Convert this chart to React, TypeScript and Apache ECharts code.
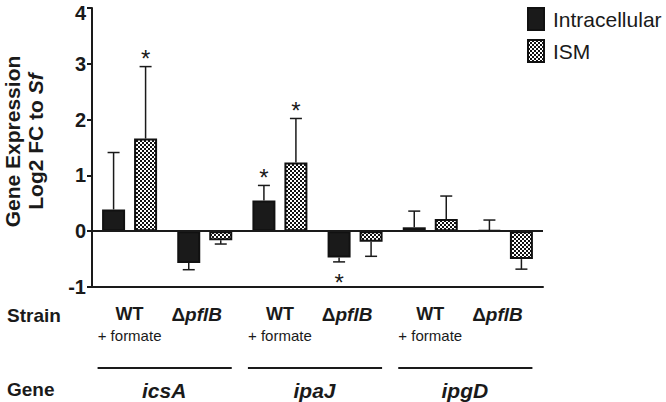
import React, { useEffect, useRef } from "react";
import * as echarts from "echarts";

// ---- data ----
const strains = ["WT + formate", "ΔpflB", "WT + formate", "ΔpflB", "WT + formate", "ΔpflB"];
const genes = ["icsA", "ipaJ", "ipgD"];
const yTicks = [-1, 0, 1, 2, 3, 4];
const intracellular = [0.39, -0.57, 0.55, -0.47, 0.07, 0.02];
const intracellularSD = [1.02, 0.12, 0.27, 0.08, 0.29, 0.18];
const intracellularSig = [false, false, true, true, false, false];
const ism = [1.66, -0.16, 1.23, -0.19, 0.22, -0.5];
const ismSD = [1.29, 0.07, 0.79, 0.26, 0.41, 0.18];
const ismSig = [true, false, true, false, false, false];

const FONT = "'Liberation Sans', Arial, Helvetica, sans-serif";
const INK = "#1a1a1a";
const BAR_W = 23;
const BAR_GAP = 9;

function makePattern() {
  const c = document.createElement("canvas");
  c.width = 4;
  c.height = 4;
  const ctx = c.getContext("2d")!;
  ctx.fillStyle = "#ffffff";
  ctx.fillRect(0, 0, 4, 4);
  ctx.fillStyle = "#111111";
  ctx.fillRect(0, 0, 2, 2);
  ctx.fillRect(2, 2, 2, 2);
  return { image: c, repeat: "repeat", imageWidth: 4, imageHeight: 4 };
}

function errData(vals: number[], sds: number[], sig: boolean[]) {
  return vals.map((v, i) => [i, v, v >= 0 ? v + sds[i] : v - sds[i], sig[i] ? 1 : 0]);
}

function errSeries(name: string, data: number[][], offset: number) {
  return {
    type: "custom",
    name: name + "-err",
    z: 1,
    silent: true,
    encode: { x: 0, y: [1, 2] },
    data,
    renderItem: (params: any, api: any) => {
      const cat = api.value(0);
      const v = api.value(1);
      const end = api.value(2);
      const sig = api.value(3);
      const p0 = api.coord([cat, v]);
      const p1 = api.coord([cat, end]);
      const x = p0[0] + offset;
      const children: any[] = [
        {
          type: "line",
          shape: { x1: x, y1: p0[1], x2: x, y2: p1[1] },
          style: { stroke: INK, lineWidth: 1.5 },
        },
        {
          type: "line",
          shape: { x1: x - 6, y1: p1[1], x2: x + 6, y2: p1[1] },
          style: { stroke: INK, lineWidth: 1.5 },
        },
      ];
      if (sig) {
        const up = end >= 0;
        children.push({
          type: "text",
          style: {
            text: "*",
            x: x,
            y: p1[1] + (up ? -15 : 14) + 7,
            align: "center",
            verticalAlign: "middle",
            font: `24px ${FONT}`,
            fill: INK,
          },
        });
      }
      return { type: "group", children };
    },
  };
}

export default function App() {
  const ref = useRef<HTMLDivElement>(null);
  useEffect(() => {
    if (!ref.current) return;
    const chart = echarts.init(ref.current, undefined, { renderer: "svg" });
    const pattern = makePattern();
    const offset = (BAR_W + BAR_GAP) / 2;
    const yMax = yTicks[yTicks.length - 1];
    chart.setOption({
      animation: false,
      backgroundColor: "#ffffff",
      grid: { left: 92, top: 8, right: 123, bottom: 115, containLabel: false, outerBoundsMode: "none" },
      legend: {
        left: 527,
        top: 7,
        padding: 0,
        orient: "vertical",
        itemWidth: 16,
        itemHeight: 22,
        itemGap: 8,
        icon: "rect",
        data: ["Intracellular", "ISM"],
        textStyle: { fontFamily: FONT, fontSize: 21, color: INK, lineHeight: 22, padding: [0, 0, 0, 4] },
      },
      xAxis: {
        type: "category",
        data: strains,
        axisLine: { onZero: false, lineStyle: { color: INK, width: 2 } },
        axisTick: { alignWithLabel: true, length: 6, lineStyle: { color: INK, width: 2 } },
        axisLabel: {
          interval: 0,
          margin: 16,
          formatter: (v: string) =>
            v.startsWith("WT") ? "{wt|WT}\n{fm|+ formate}" : "{d|Δ}{p|pflB}",
          rich: {
            wt: { fontFamily: FONT, fontWeight: "bold", fontSize: 18, lineHeight: 22, color: INK },
            fm: { fontFamily: FONT, fontSize: 15, lineHeight: 20, color: INK },
            d: { fontFamily: FONT, fontWeight: "bold", fontSize: 19, lineHeight: 22, color: INK },
            p: {
              fontFamily: FONT,
              fontWeight: "bold",
              fontStyle: "italic",
              fontSize: 19,
              lineHeight: 22,
              color: INK,
              padding: [0, 16, 0, 0],
            },
          },
        },
      },
      yAxis: {
        type: "value",
        min: yTicks[0],
        max: yMax,
        interval: 1,
        splitLine: { show: false },
        axisLine: { show: true, onZero: false, lineStyle: { color: INK, width: 2 } },
        axisTick: { show: true, length: 5, lineStyle: { color: INK, width: 2 } },
        axisLabel: {
          margin: 6,
          fontFamily: FONT,
          fontWeight: "bold",
          fontSize: 20,
          color: INK,
          formatter: (v: number) => (v === yMax ? `{top|${v}}` : `${v}`),
          rich: {
            top: { fontFamily: FONT, fontWeight: "bold", fontSize: 20, color: INK, padding: [10, 0, 0, 0] },
          },
        },
        name: "Gene Expression\nLog2 FC to {i|Sf}",
        nameLocation: "middle",
        nameRotate: 90,
        nameGap: 45,
        nameTextStyle: {
          fontFamily: FONT,
          fontWeight: "bold",
          fontSize: 21,
          lineHeight: 23,
          color: INK,
          padding: [0, 0, 0, 12],
          rich: {
            i: { fontFamily: FONT, fontWeight: "bold", fontStyle: "italic", fontSize: 21, lineHeight: 23, color: INK },
          },
        },
      },
      series: [
        {
          type: "bar",
          name: "Intracellular",
          data: intracellular,
          barWidth: BAR_W,
          barGap: `${(BAR_GAP / BAR_W) * 100}%`,
          barMinHeight: 1,
          z: 2,
          itemStyle: { color: "#1a1a1a", borderColor: "#111", borderWidth: 2 },
          markLine: {
            silent: true,
            symbol: "none",
            label: { show: false },
            lineStyle: { color: INK, width: 2, type: "solid" },
            data: [{ yAxis: 0 }],
          },
        },
        {
          type: "bar",
          name: "ISM",
          data: ism,
          barWidth: BAR_W,
          z: 2,
          itemStyle: { color: pattern, borderColor: "#111", borderWidth: 2 },
        },
        errSeries("Intracellular", errData(intracellular, intracellularSD, intracellularSig), -offset),
        errSeries("ISM", errData(ism, ismSD, ismSig), offset),
      ],
    } as any);

    // gene group labels and underlines, positioned from the category scale
    const yBase = chart.convertToPixel({ yAxisIndex: 0 }, yTicks[0]) as number;
    const graphics: any[] = [
      {
        type: "text",
        left: 7,
        top: 306,
        style: { text: "Strain", font: `bold 19px ${FONT}`, fill: INK },
      },
      {
        type: "text",
        left: 7,
        top: 380,
        style: { text: "Gene", font: `bold 19px ${FONT}`, fill: INK },
      },
    ];
    genes.forEach((g, gi) => {
      const c0 = chart.convertToPixel({ xAxisIndex: 0 }, gi * 2) as number;
      const c1 = chart.convertToPixel({ xAxisIndex: 0 }, gi * 2 + 1) as number;
      graphics.push({
        type: "line",
        shape: { x1: c0 - 32, y1: yBase + 81, x2: c1 + 27, y2: yBase + 81 },
        style: { stroke: INK, lineWidth: 2 },
      });
      graphics.push({
        type: "text",
        x: (c0 + c1) / 2 - 3,
        y: yBase + 103,
        style: {
          text: g,
          align: "center",
          verticalAlign: "middle",
          font: `italic bold 21px ${FONT}`,
          fill: INK,
        },
      });
    });
    chart.setOption({ graphic: graphics });

    return () => chart.dispose();
  }, []);
  return (
    <div
      ref={ref}
      style={{ position: "absolute", left: 0, top: 0, width: 666, height: 402, background: "#fff" }}
    />
  );
}
